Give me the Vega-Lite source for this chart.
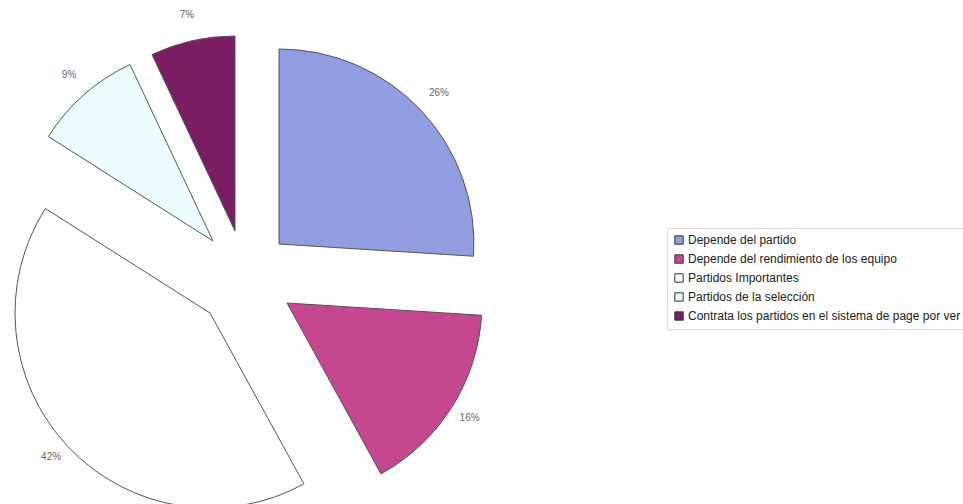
{
  "$schema": "https://vega.github.io/schema/vega-lite/v6.json",
  "width": 490,
  "height": 458,
  "autosize": "none",
  "padding": {"left": 0, "top": 46, "right": 473, "bottom": 0},
  "background": "white",
  "config": {
    "view": {"stroke": null},
    "legend": {
      "orient": "none",
      "legendX": 667,
      "legendY": 182,
      "title": null,
      "strokeColor": "#dddddd",
      "padding": 6,
      "labelFont": "Liberation Sans",
      "labelFontSize": 12,
      "labelColor": "#222222",
      "labelLimit": 400,
      "symbolType": "square",
      "symbolSize": 70,
      "symbolStrokeColor": "#333333",
      "symbolStrokeWidth": 1,
      "rowPadding": 5,
      "labelOffset": 3
    }
  },
  "data": {
    "values": [
      {"cat": "Depende del partido", "pct": 26, "label": "26%"},
      {"cat": "Depende del rendimiento de los equipo", "pct": 16, "label": "16%"},
      {"cat": "Partidos Importantes", "pct": 42, "label": "42%"},
      {"cat": "Partidos de la selección", "pct": 9, "label": "9%"},
      {"cat": "Contrata los partidos en el sistema de page por ver", "pct": 7, "label": "7%"}
    ]
  },
  "transform": [{"stack": "pct", "groupby": [], "as": ["t0", "t1"]}],
  "layer": [
    {
      "transform": [{"filter": {"field": "cat", "equal": "Depende del partido"}}],
      "mark": {"type": "arc", "radius": 195, "stroke": "#555555", "strokeWidth": 1, "xOffset": 34, "yOffset": -31},
      "encoding": {
        "theta": {"field": "t0", "type": "quantitative", "scale": {"domain": [0, 100]}, "stack": null},
        "theta2": {"field": "t1"},
        "color": {"field": "cat", "type": "nominal", "scale": {"domain": ["Depende del partido", "Depende del rendimiento de los equipo", "Partidos Importantes", "Partidos de la selección", "Contrata los partidos en el sistema de page por ver"], "range": ["#929ce0", "#c4478f", "#ffffff", "#ecfcff", "#7b1d62"]}}
      }
    },
    {
      "transform": [{"filter": {"field": "cat", "equal": "Depende del rendimiento de los equipo"}}],
      "mark": {"type": "arc", "radius": 195, "stroke": "#555555", "strokeWidth": 1, "xOffset": 42, "yOffset": 28},
      "encoding": {
        "theta": {"field": "t0", "type": "quantitative", "scale": {"domain": [0, 100]}, "stack": null},
        "theta2": {"field": "t1"},
        "color": {"field": "cat", "type": "nominal"}
      }
    },
    {
      "transform": [{"filter": {"field": "cat", "equal": "Partidos Importantes"}}],
      "mark": {"type": "arc", "radius": 195, "stroke": "#555555", "strokeWidth": 1, "xOffset": -35, "yOffset": 38},
      "encoding": {
        "theta": {"field": "t0", "type": "quantitative", "scale": {"domain": [0, 100]}, "stack": null},
        "theta2": {"field": "t1"},
        "color": {"field": "cat", "type": "nominal"}
      }
    },
    {
      "transform": [{"filter": {"field": "cat", "equal": "Partidos de la selección"}}],
      "mark": {"type": "arc", "radius": 195, "stroke": "#555555", "strokeWidth": 1, "xOffset": -32, "yOffset": -34},
      "encoding": {
        "theta": {"field": "t0", "type": "quantitative", "scale": {"domain": [0, 100]}, "stack": null},
        "theta2": {"field": "t1"},
        "color": {"field": "cat", "type": "nominal"}
      }
    },
    {
      "transform": [{"filter": {"field": "cat", "equal": "Contrata los partidos en el sistema de page por ver"}}],
      "mark": {"type": "arc", "radius": 195, "stroke": "#555555", "strokeWidth": 1, "xOffset": -10, "yOffset": -44},
      "encoding": {
        "theta": {"field": "t0", "type": "quantitative", "scale": {"domain": [0, 100]}, "stack": null},
        "theta2": {"field": "t1"},
        "color": {"field": "cat", "type": "nominal"}
      }
    },
    {
      "mark": {"type": "text", "radius": 266, "font": "Liberation Sans", "fontSize": 10, "fill": "#666666"},
      "encoding": {
        "theta": {"field": "pct", "type": "quantitative", "stack": true},
        "detail": {"field": "cat", "type": "nominal"},
        "order": {"field": "t0", "type": "quantitative"},
        "text": {"field": "label"}
      }
    }
  ]
}
